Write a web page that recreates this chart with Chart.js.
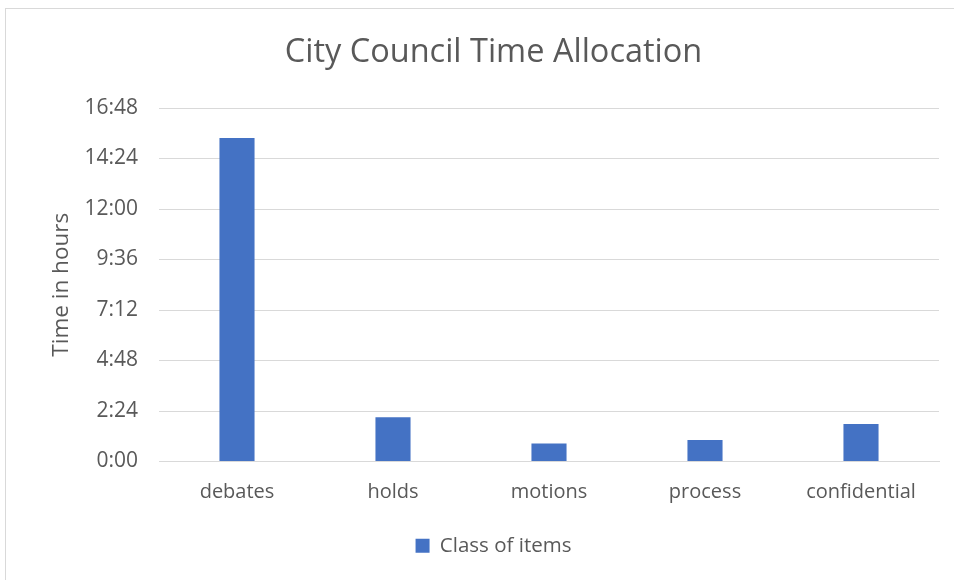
<!DOCTYPE html>
<html>
<head>
<meta charset="utf-8">
<script src="https://cdn.jsdelivr.net/npm/chart.js@4"></script>
<style>
  body { margin: 0; background: #fff; }
  #wrap { position: relative; width: 954px; height: 580px; overflow: hidden; }
  #frame { position: absolute; left: 5px; top: 8px; width: 980px; height: 600px; border: 1px solid #d9d9d9; }
  canvas { position: absolute; left: 0; top: 0; }
</style>
</head>
<body>
<div id="wrap">
  <div id="frame"></div>
  <canvas id="councilChart" width="954" height="580"></canvas>
</div>
<script>
// hours spent per class of item (decimal hours)
const categories = ["debates", "holds", "motions", "process", "confidential"];
const hours = [15.38, 2.1, 0.85, 1.02, 1.78];
const tickStep = 2.4; // 2:24
const axisMax = 16.8; // 16:48

const textColor = "#595959";
const font = "'Open Sans', 'Noto Sans', sans-serif";

function toClock(v) {
  const mins = Math.round(v * 60);
  const h = Math.floor(mins / 60);
  const m = mins % 60;
  return h + ":" + String(m).padStart(2, "0");
}

Chart.defaults.font.family = font;
Chart.defaults.color = textColor;

new Chart(document.getElementById("councilChart"), {
  type: "bar",
  data: {
    labels: categories,
    datasets: [{
      label: "Class of items",
      data: hours,
      backgroundColor: "#4472C4",
      categoryPercentage: 1,
      barPercentage: 0.225
    }]
  },
  options: {
    responsive: false,
    animation: false,
    layout: { padding: { left: 48, right: 15, top: 33, bottom: 14 } },
    plugins: {
      title: {
        display: true,
        text: "City Council Time Allocation",
        color: textColor,
        font: { size: 32.5, weight: "normal" },
        padding: { top: 0, bottom: 36 }
      },
      legend: {
        position: "bottom",
        labels: {
          color: textColor,
          font: { size: 20.5 },
          boxWidth: 14,
          boxHeight: 14,
          padding: 6
        }
      },
      tooltip: { enabled: false }
    },
    scales: {
      x: {
        grid: { display: false },
        border: { color: "#d9d9d9", width: 1 },
        ticks: { font: { size: 20 }, color: textColor, padding: 11 },
        afterFit: s => { s.height = 68; }
      },
      y: {
        min: 0,
        max: axisMax,
        grid: { color: "#d9d9d9", lineWidth: 1, drawTicks: false },
        border: { display: false },
        ticks: {
          stepSize: tickStep,
          font: { size: 21 },
          color: textColor,
          padding: 21,
          callback: v => toClock(v)
        },
        title: {
          display: true,
          text: "Time in hours",
          color: textColor,
          font: { size: 22.5 },
          padding: 0
        },
        afterFit: s => { s.width = 111; }
      }
    }
  }
});
</script>
</body>
</html>
